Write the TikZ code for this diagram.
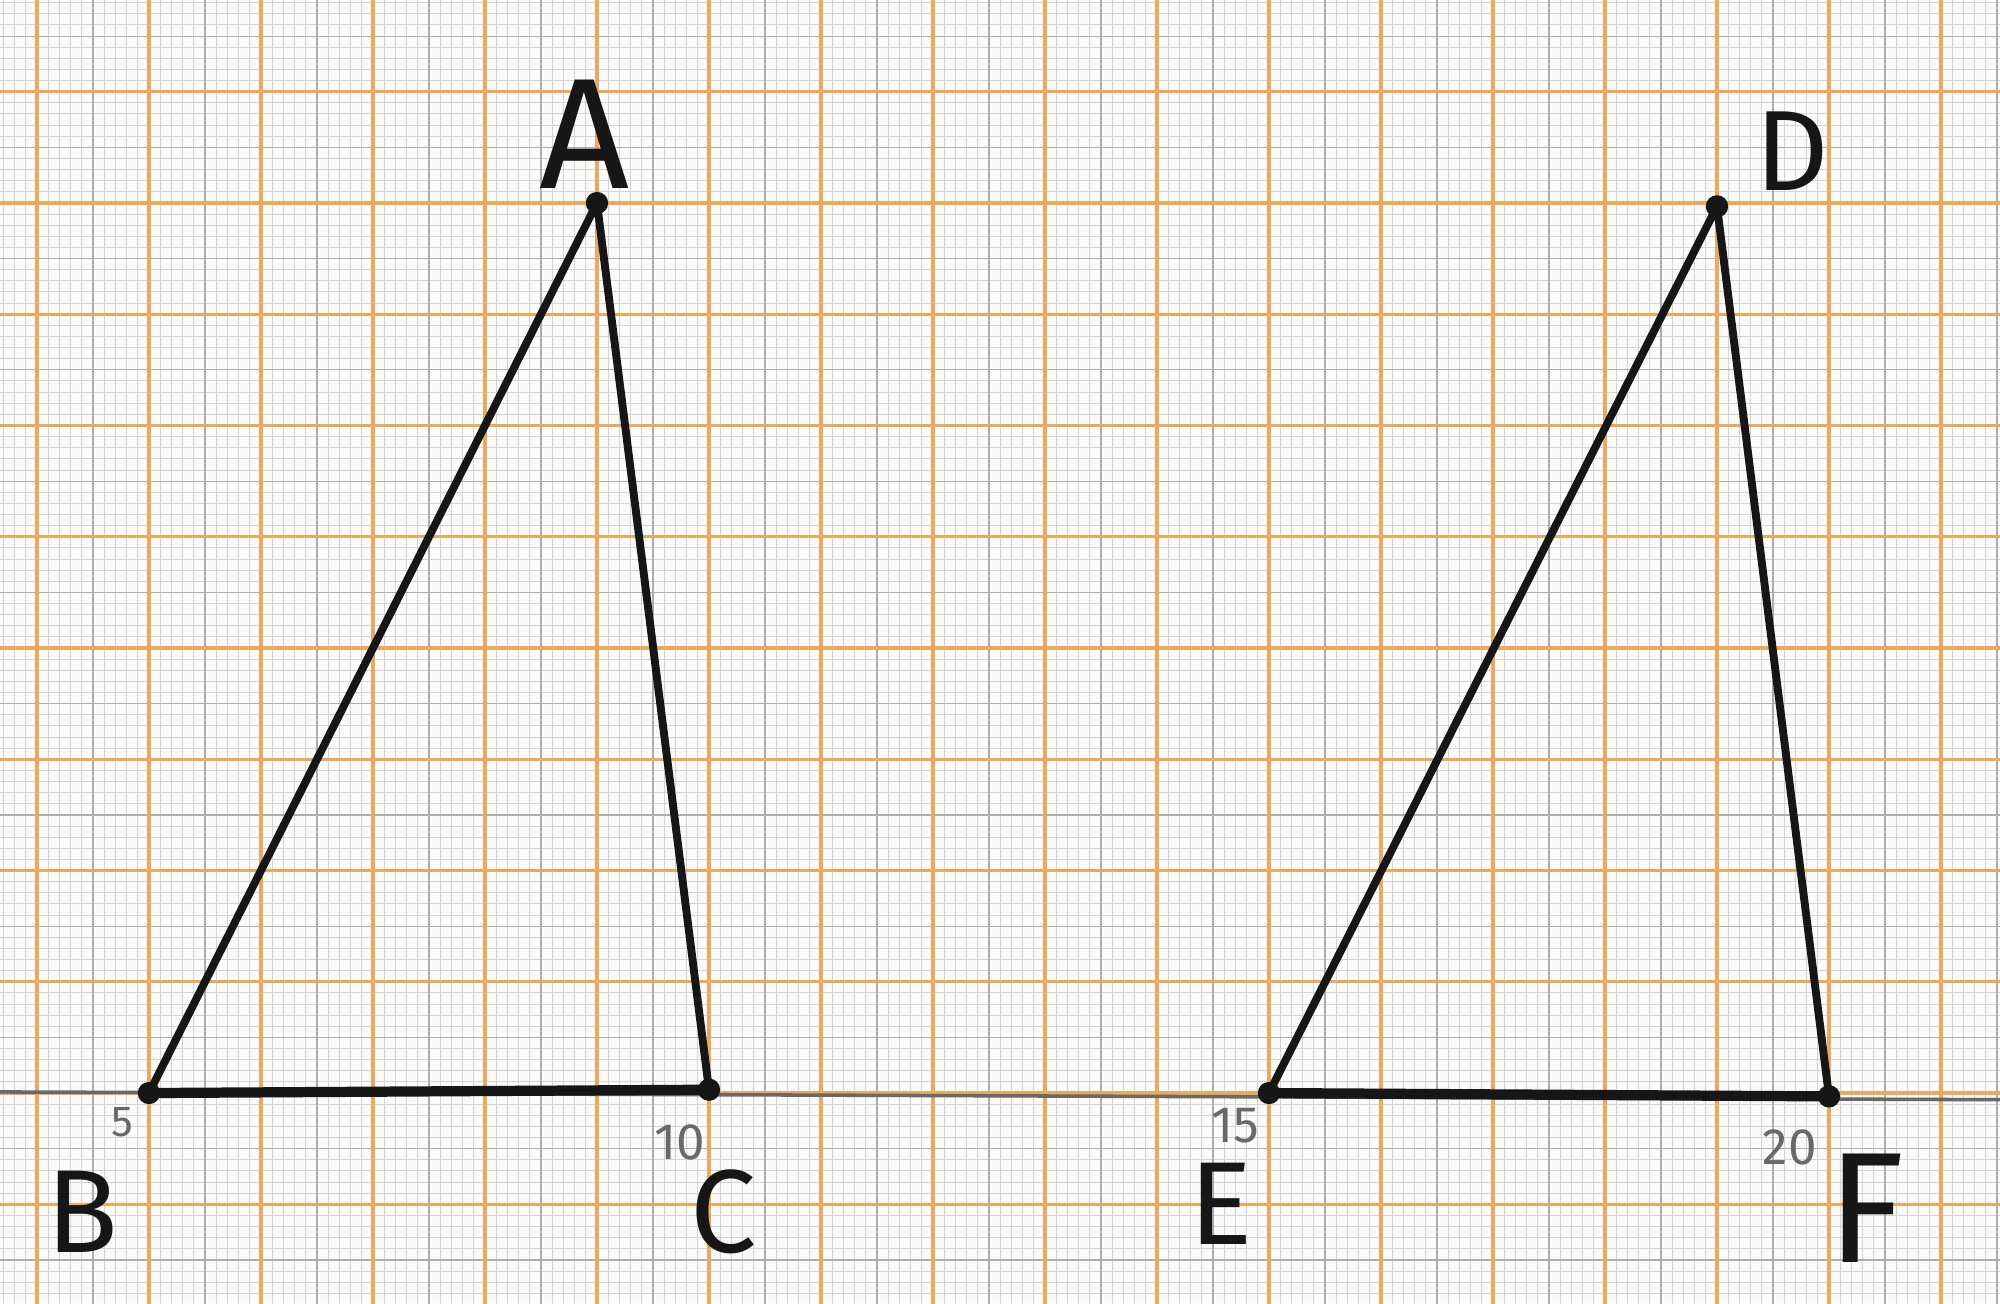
\documentclass[tikz,border=0pt]{standalone}
\usepackage{fontspec}
\setmainfont{Fira Sans}
\definecolor{paper}{RGB}{250,250,249}
\definecolor{finegrid}{RGB}{212,212,216}
\definecolor{halfgrid}{RGB}{172,172,178}
\definecolor{cmgrid}{RGB}{236,168,92}
\definecolor{pencil}{RGB}{105,105,105}
\definecolor{ink}{RGB}{22,22,22}
\begin{document}
\begin{tikzpicture}[x=1cm,y=0.9933cm,
  side/.style={ink, line width=2pt, line cap=round, line join=round},
  basestroke/.style={ink, line width=2.6pt, line cap=round},
  vlabel/.style={ink, inner sep=0pt},
  tick/.style={pencil, inner sep=0pt, font=\fontsize{13}{13}\selectfont}]
\useasboundingbox (3.670,-1.888) rectangle (21.527,9.825);
\fill[paper] (3.670,-1.888) rectangle (21.527,9.825);
\begin{scope}
\clip (3.670,-1.888) rectangle (21.527,9.825);
\draw[finegrid, line width=0.25pt, step=0.1] (3.6,-1.9) grid (21.6,9.9);
\draw[halfgrid, line width=0.3pt, step=0.5] (3.5,-2) grid (21.6,9.9);
\draw[cmgrid, line width=0.85pt, step=1] (3,-2) grid (22,10);
\end{scope}
% axis drawn in pencil
\coordinate (axL) at (3.670,0.01);
\coordinate (axR) at (21.527,-0.06);
\draw[pencil, line width=0.9pt] (axL) -- (axR);
% points
\coordinate (A) at (9,8);
\coordinate (B) at (5,0);
\coordinate (C) at (10,0.03);
\coordinate (D) at (19,7.97);
\coordinate (E) at (15,0);
\coordinate (F) at (20,-0.03);
\draw[side] (B) -- (A) -- (C);
\draw[basestroke] (B) -- (C);
\draw[side] (E) -- (D) -- (F);
\draw[basestroke] (E) -- (F);
\foreach \p in {A,B,C,D,E,F} \fill[ink] (\p) circle (0.1);
% letters
\node[vlabel, font=\fontsize{40}{40}\selectfont] (lA) at (8.89,8.62) {A};
\node[vlabel, font=\fontsize{30}{30}\selectfont] (lB) at (4.41,-1.07) {B};
\node[vlabel, font=\fontsize{30}{30}\selectfont] (lC) at (10.13,-1.07) {C};
\node[vlabel, font=\fontsize{29}{29}\selectfont] (lD) at (19.67,8.47) {D};
\node[vlabel, font=\fontsize{30}{30}\selectfont] (lE) at (14.57,-1.0) {E};
\node[vlabel, font=\fontsize{40}{40}\selectfont] (lF) at (20.33,-1.04) {F};
% pencil numbers
\node[tick, font=\fontsize{11}{11}\selectfont] (n5) at (4.76,-0.26) {5};
\node[tick] (n10) at (9.74,-0.44) {10};
\node[tick] (n15) at (14.70,-0.29) {15};
\node[tick] (n20) at (19.65,-0.49) {20};
\end{tikzpicture}
\end{document}
